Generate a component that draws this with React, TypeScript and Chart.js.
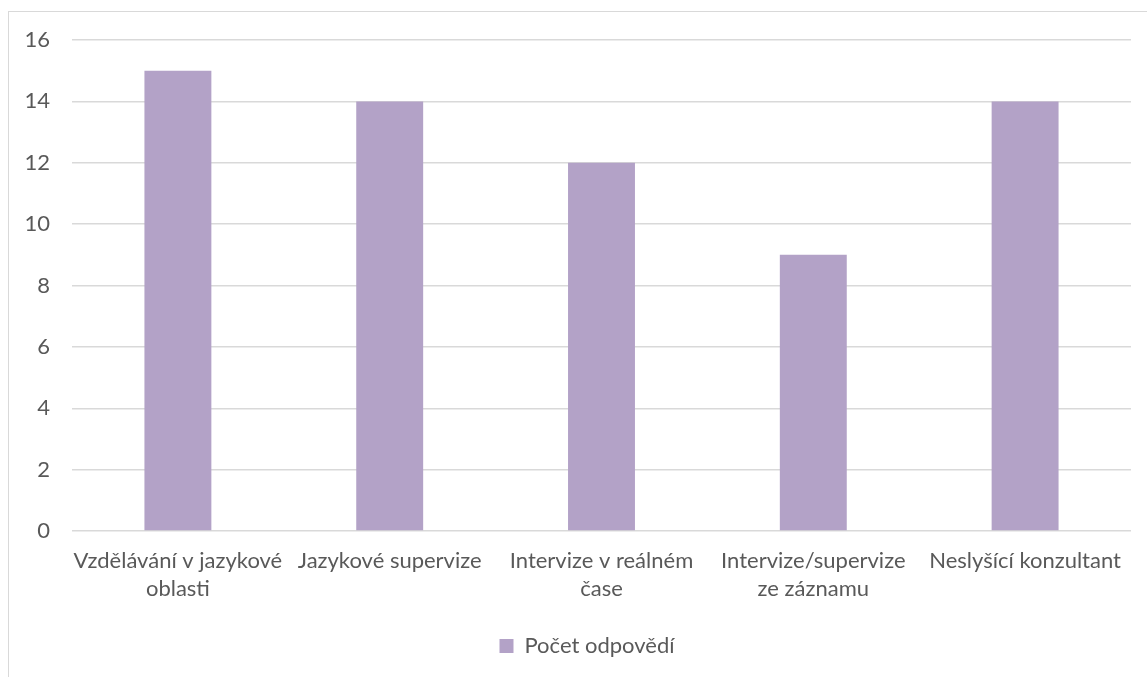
import React, { useEffect, useRef } from "react";
import { Chart, registerables } from "chart.js";

Chart.register(...registerables);

const categories: string[][] = [
  ["Vzdělávání v jazykové", "oblasti"],
  ["Jazykové supervize"],
  ["Intervize v reálném", "čase"],
  ["Intervize/supervize", "ze záznamu"],
  ["Neslyšící konzultant"],
];
const seriesName = "Počet odpovědí";
const values: number[] = [15, 14, 12, 9, 14];
const yMin = 0;
const yMax = 16;
const yStep = 2;

const FONT = "Lato, 'Liberation Sans', sans-serif";
const TEXT = "#595959";
const GRID = "#d9d9d9";
const BAR = "#b3a2c7";

const legendShift = {
  id: "legendShift",
  afterLayout(chart: any) {
    const l = chart.legend;
    if (l) {
      l.left += 17;
      l.right += 17;
    }
  },
};

export default function App() {
  const ref = useRef<HTMLCanvasElement | null>(null);
  useEffect(() => {
    if (!ref.current) return;
    const chart = new Chart(ref.current, {
      type: "bar",
      data: {
        labels: categories,
        datasets: [
          {
            label: seriesName,
            data: values,
            backgroundColor: BAR,
            borderWidth: 0,
            categoryPercentage: 1,
            barPercentage: 0.316,
          },
        ],
      },
      plugins: [legendShift],
      options: {
        animation: false,
        responsive: false,
        maintainAspectRatio: false,
        layout: { padding: { top: 28, right: 16, left: 0, bottom: 10 } },
        plugins: {
          tooltip: { enabled: false },
          legend: {
            position: "bottom",
            labels: {
              color: TEXT,
              font: { family: FONT, size: 22 },
              boxWidth: 14,
              boxHeight: 14,
              padding: 16,
            },
          },
        },
        scales: {
          x: {
            grid: { display: false, drawTicks: false },
            border: { display: false },
            ticks: {
              color: TEXT,
              font: { family: FONT, size: 22, lineHeight: 1.27 },
              padding: 16,
              maxRotation: 0,
              autoSkip: false,
            },
          },
          y: {
            min: yMin,
            max: yMax,
            afterFit: (s: any) => {
              s.width = 63;
              s.paddingTop = 0;
              s.paddingBottom = 0;
            },
            grid: { color: GRID, lineWidth: 1.5, drawTicks: false },
            border: { display: false },
            ticks: {
              stepSize: yStep,
              color: TEXT,
              font: { family: FONT, size: 22 },
              padding: 22,
            },
          },
        },
      },
    });
    return () => chart.destroy();
  }, []);

  return (
    <div
      style={{
        position: "fixed",
        left: 0,
        top: 0,
        width: 1147,
        height: 677,
        overflow: "hidden",
        background: "#fff",
      }}
    >
      <div
        style={{
          position: "absolute",
          left: 8,
          top: 11,
          width: 1200,
          height: 720,
          border: "1px solid #d9d9d9",
          boxSizing: "border-box",
        }}
      />
      <canvas
        ref={ref}
        width={1138}
        height={665}
        style={{ position: "absolute", left: 9, top: 12, width: 1138, height: 665 }}
      />
    </div>
  );
}
